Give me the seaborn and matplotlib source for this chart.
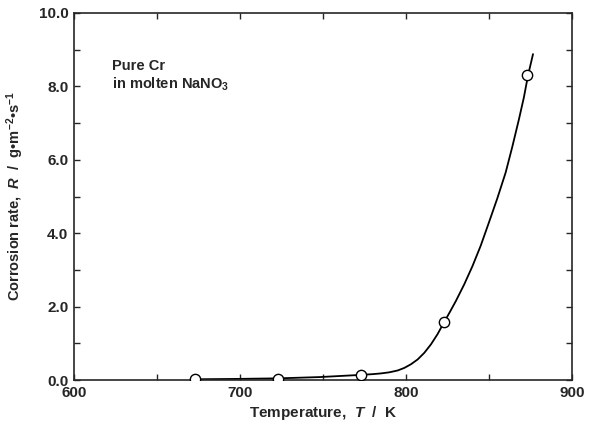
import matplotlib
matplotlib.use("Agg")
import matplotlib.pyplot as plt
import seaborn as sns
import pandas as pd
from matplotlib.ticker import MultipleLocator, FormatStrFormatter

# Measured points
temp_pts = [673, 723, 773, 823, 873]
rate_pts = [0.02, 0.04, 0.14, 1.58, 8.32]

# Fitted curve
temp_curve = [673, 698, 723, 748, 773, 780, 785, 790, 795, 799, 803, 807,
              811, 815, 819, 823, 826.5, 830, 835, 840, 845, 850, 855, 860,
              864, 868, 871, 873.5, 876.5]
rate_curve = [0.02, 0.03, 0.045, 0.08, 0.14, 0.16, 0.18, 0.21, 0.26, 0.33,
              0.43, 0.56, 0.74, 0.97, 1.25, 1.58, 1.86, 2.15, 2.6, 3.1,
              3.66, 4.3, 4.95, 5.65, 6.35, 7.1, 7.7, 8.3, 8.88]

x_ticks = [600, 700, 800, 900]
y_ticks = [0, 2, 4, 6, 8, 10]

sns.set_style("ticks")
plt.rcParams['font.family'] = ['Liberation Sans', 'DejaVu Sans']
plt.rcParams['font.weight'] = 'bold'
plt.rcParams['mathtext.fontset'] = 'custom'
plt.rcParams['mathtext.rm'] = 'Liberation Sans:bold'
plt.rcParams['mathtext.it'] = 'Liberation Sans:italic:bold'
plt.rcParams['mathtext.bf'] = 'Liberation Sans:bold'

fig = plt.figure(figsize=(5.94, 4.29), dpi=100)
ax = fig.add_axes([0.1246, 0.1142, 0.963 - 0.1246, 0.9697 - 0.1142])

curve = pd.DataFrame({"T": temp_curve, "R": rate_curve})
pts = pd.DataFrame({"T": temp_pts, "R": rate_pts})

sns.lineplot(data=curve, x="T", y="R", ax=ax, color="black", linewidth=1.3,
             sort=False, zorder=2)
sns.scatterplot(data=pts, x="T", y="R", ax=ax, marker="o", s=55,
                facecolor="white", edgecolor="black", linewidth=1.0, zorder=3)

ax.set_xlim(600, 900)
ax.set_ylim(0, 10)
ax.set_xticks(x_ticks)
ax.set_yticks(y_ticks)
ax.xaxis.set_minor_locator(MultipleLocator(50))
ax.yaxis.set_minor_locator(MultipleLocator(1))
ax.yaxis.set_major_formatter(FormatStrFormatter('%.1f'))
ax.tick_params(which='both', direction='in', top=True, right=True,
               length=4, width=1.0, labelsize=11, pad=4)
for lab in ax.get_xticklabels() + ax.get_yticklabels():
    lab.set_fontweight('bold')
for sp in ax.spines.values():
    sp.set_linewidth(1.2)
    sp.set_visible(True)

ax.set_xlabel("Temperature,  $T$  /  K", fontsize=11, fontweight='bold', labelpad=3)
ax.set_ylabel("Corrosion rate,  $R$  /  g\u2022m$^{-2}$\u2022s$^{-1}$", fontsize=10.5,
              fontweight='bold', labelpad=9)

ax.text(623, 8.75, "Pure Cr\nin molten NaNO$_3$", fontsize=10.5, fontweight='bold',
        va='top', ha='left', linespacing=1.2)

fig.savefig("out.png", dpi=100)
